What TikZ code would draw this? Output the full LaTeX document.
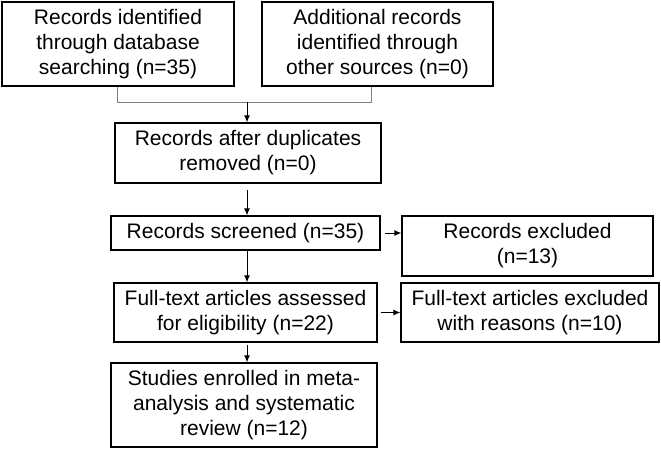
\documentclass[tikz,border=0pt]{standalone}
\usepackage{fontspec}
\setmainfont{Liberation Sans}
\usetikzlibrary{arrows.meta}
\begin{document}
\begin{tikzpicture}[x=1pt,y=-1pt,
  box/.style={draw, line width=1.3pt, align=center, inner sep=0pt, font=\fontsize{21}{25}\selectfont},
  conn/.style={line width=1pt, -{Latex[length=7pt,width=6pt]}},
  feed/.style={line width=1pt, draw=gray}]
\useasboundingbox (0,0) rectangle (661,450);
\node[box, minimum width=232pt, minimum height=84pt] (b1) at (118,44) {Records identified\\through database\\searching (n=35)};
\node[box, minimum width=231pt, minimum height=84pt] (b2) at (377.5,44) {Additional records\\identified through\\other sources (n=0)};
\node[box, minimum width=266pt, minimum height=60pt] (b3) at (248,153) {Records after duplicates\\removed (n=0)};
\node[box, minimum width=269pt, minimum height=34pt] (b4) at (245.5,233) {Records screened (n=35)};
\node[box, minimum width=251pt, minimum height=60pt] (b5) at (527.5,246) {Records excluded\\(n=13)};
\node[box, minimum width=263pt, minimum height=59pt] (b7) at (245.5,312.5) {Full-text articles assessed\\for eligibility (n=22)};
\node[box, minimum width=258pt, minimum height=59pt] (b6) at (530,312.5) {Full-text articles excluded\\with reasons (n=10)};
\node[box, minimum width=266pt, minimum height=84pt] (b8) at (244,405) {Studies enrolled in meta-\\analysis and systematic\\review (n=12)};
\coordinate (f1) at (117,102);
\coordinate (f2) at (371,102);
\coordinate (j) at (247,102);
\draw[feed] (b1.south -| f1) -- (f1) -- (f2) -- (b2.south -| f2);
\draw[conn] (j) -- (b3.north -| j);
\draw[conn, shorten <=6pt] (b3.south -| j) -- (b4.north -| j);
\draw[conn] (b4.south -| j) -- (b7.north -| j);
\draw[conn, shorten <=2pt] (b7.south -| j) -- (b8.north -| j);
\draw[conn, shorten <=4pt] (b4.east) -- (b5.west |- b4.east);
\draw[conn, shorten <=3pt] (b7.east) -- (b6.west |- b7.east);
\end{tikzpicture}
\end{document}
